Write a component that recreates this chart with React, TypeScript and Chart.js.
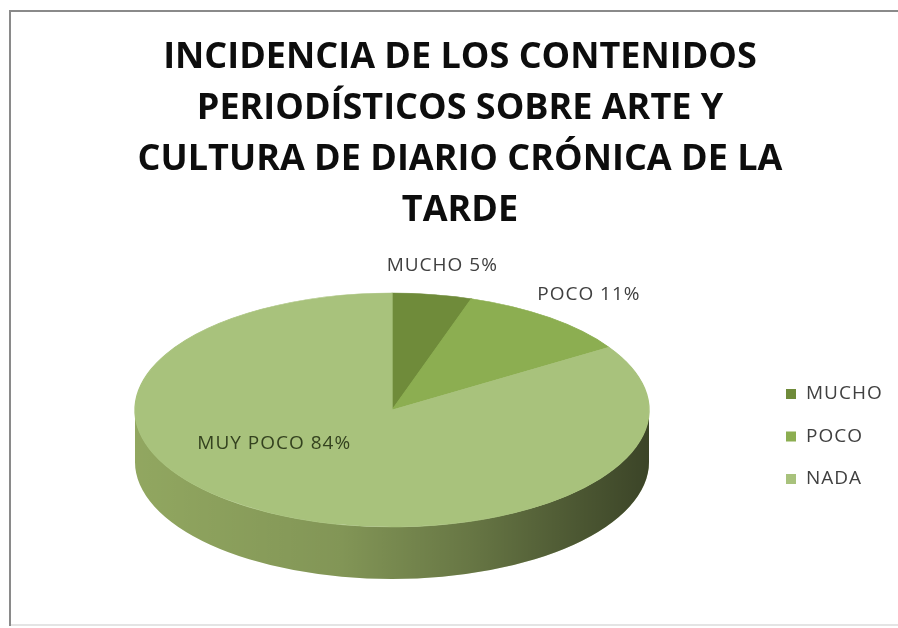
import React, { useEffect, useRef } from "react";
import { Chart, registerables } from "chart.js";

Chart.register(...registerables);

// ---------- data ----------
const TITLE_LINES = [
  "INCIDENCIA DE LOS CONTENIDOS",
  "PERIODÍSTICOS SOBRE ARTE Y",
  "CULTURA DE DIARIO CRÓNICA DE LA",
  "TARDE",
];
const LEGEND_LABELS = ["MUCHO", "POCO", "NADA"];
const DATA_LABEL_NAMES = ["MUCHO", "POCO", "MUY POCO"];
const VALUES = [5, 11, 84];

// ---------- style ----------
const TOP_COLORS = ["#6f8b3a", "#8cae51", "#a8c27c"];
const SIDE_COLORS = ["#5d7630", "#7c9a45", "#94aa62"];
const SIDE_SHADE: [number, number][] = [
  [0, 0.02],
  [0.4, 0.12],
  [0.65, 0.3],
  [0.85, 0.48],
  [1, 0.6],
];
const FONT = "'Open Sans', sans-serif";

// ellipse geometry of the 3D pie on screen
const PIE_CX = 392;
const PIE_CY = 410;
const PIE_RX = 257;
const PIE_RY = 117;
const PIE_DEPTH = 52;

const LEGEND_X = 786;
const LEGEND_Y0 = 394;
const LEGEND_GAP = 42.5;

function getPieGeom(chart: any) {
  const meta = chart.getDatasetMeta(0);
  const el = meta.data[0];
  const p = el.getProps(["x", "y", "outerRadius"], true);
  return { meta, cx: p.x, cy: p.y, R: p.outerRadius };
}

const framePlugin = {
  id: "frame",
  beforeDraw(chart: any) {
    const ctx = chart.ctx;
    ctx.save();
    ctx.fillStyle = "#ffffff";
    ctx.fillRect(0, 0, chart.width, chart.height);
    ctx.fillStyle = "#8a8a8a";
    ctx.fillRect(9, 10, chart.width - 9, 2);
    ctx.fillRect(9, 10, 2, 616);
    ctx.fillStyle = "#e4e4e4";
    ctx.fillRect(11, 624, chart.width - 11, 2);
    ctx.restore();
  },
};

const pie3dPlugin = {
  id: "pie3d",
  beforeDatasetsDraw(chart: any) {
    const { meta, cx, cy, R } = getPieGeom(chart);
    const ctx = chart.ctx;
    const sx = PIE_RX / R;
    const sy = PIE_RY / R;
    ctx.save();
    ctx.translate(PIE_CX, PIE_CY);
    ctx.scale(sx, sy);
    ctx.translate(-cx, -cy);
    const d = PIE_DEPTH / sy;
    meta.data.forEach((el: any, i: number) => {
      const { startAngle, endAngle } = el.getProps(["startAngle", "endAngle"], true);
      const a = Math.max(startAngle, 0);
      const b = Math.min(endAngle, Math.PI);
      if (a >= b) return;
      const path = () => {
        ctx.beginPath();
        ctx.arc(cx, cy, R, a, b);
        ctx.lineTo(cx + R * Math.cos(b), cy + d + R * Math.sin(b));
        ctx.arc(cx, cy + d, R, b, a, true);
        ctx.closePath();
      };
      path();
      ctx.fillStyle = SIDE_COLORS[i];
      ctx.fill();
      const g = ctx.createLinearGradient(cx - R, 0, cx + R, 0);
      SIDE_SHADE.forEach(([o, al]) => g.addColorStop(o, `rgba(0,0,0,${al})`));
      path();
      ctx.fillStyle = g;
      ctx.fill();
    });
  },
  afterDatasetsDraw(chart: any) {
    chart.ctx.restore();
  },
};

const labelsPlugin = {
  id: "pieLabels",
  afterDraw(chart: any) {
    const { meta } = getPieGeom(chart);
    const ctx = chart.ctx;
    const total = VALUES.reduce((s, v) => s + v, 0);
    ctx.save();
    ctx.font = `19px ${FONT}`;
    (ctx as any).letterSpacing = "1px";
    ctx.textBaseline = "middle";
    meta.data.forEach((el: any, i: number) => {
      const { startAngle, endAngle } = el.getProps(["startAngle", "endAngle"], true);
      const mid = (startAngle + endAngle) / 2;
      const pct = VALUES[i] / total;
      const text = `${DATA_LABEL_NAMES[i]} ${Math.round(pct * 100)}%`;
      const outside = pct < 0.2;
      const f = outside ? 1.25 : 0.33;
      const x = PIE_CX + PIE_RX * f * Math.cos(mid);
      const y = PIE_CY + PIE_RY * f * Math.sin(mid);
      if (outside) {
        ctx.textAlign = "center";
        ctx.fillStyle = "#404040";
      } else {
        ctx.textAlign = Math.cos(mid) < 0 ? "right" : "left";
        ctx.fillStyle = "#34421f";
      }
      ctx.fillText(text, x, y);
    });
    // legend
    ctx.textAlign = "left";
    ctx.fillStyle = "#404040";
    LEGEND_LABELS.forEach((lab, i) => {
      const y = LEGEND_Y0 + i * LEGEND_GAP;
      ctx.fillStyle = TOP_COLORS[i];
      ctx.fillRect(LEGEND_X, y - 5, 10, 10);
      ctx.fillStyle = "#404040";
      ctx.fillText(lab, LEGEND_X + 20, y);
    });
    ctx.restore();
  },
};

export default function App() {
  const ref = useRef<HTMLCanvasElement | null>(null);
  useEffect(() => {
    if (!ref.current) return;
    const chart = new Chart(ref.current, {
      type: "pie",
      data: {
        labels: LEGEND_LABELS,
        datasets: [
          {
            data: VALUES,
            backgroundColor: TOP_COLORS,
            borderColor: TOP_COLORS,
            borderWidth: 1,
            clip: false,
          } as any,
        ],
      },
      options: {
        responsive: false,
        maintainAspectRatio: false,
        animation: false,
        events: [],
        layout: { padding: { left: 22, right: 0, top: 0, bottom: 0 } },
        plugins: {
          legend: { display: false },
          tooltip: { enabled: false },
          title: {
            display: true,
            text: TITLE_LINES,
            color: "#0d0d0d",
            font: { family: FONT, weight: "bold", size: 36, lineHeight: "51px" } as any,
            padding: { top: 32, bottom: 10 },
          },
        },
      },
      plugins: [framePlugin, pie3dPlugin, labelsPlugin],
    });
    return () => chart.destroy();
  }, []);
  return (
    <div style={{ position: "fixed", left: 0, top: 0, width: 898, height: 628, background: "#fff" }}>
      <canvas ref={ref} width={898} height={628} style={{ display: "block", width: 898, height: 628 }} />
    </div>
  );
}
